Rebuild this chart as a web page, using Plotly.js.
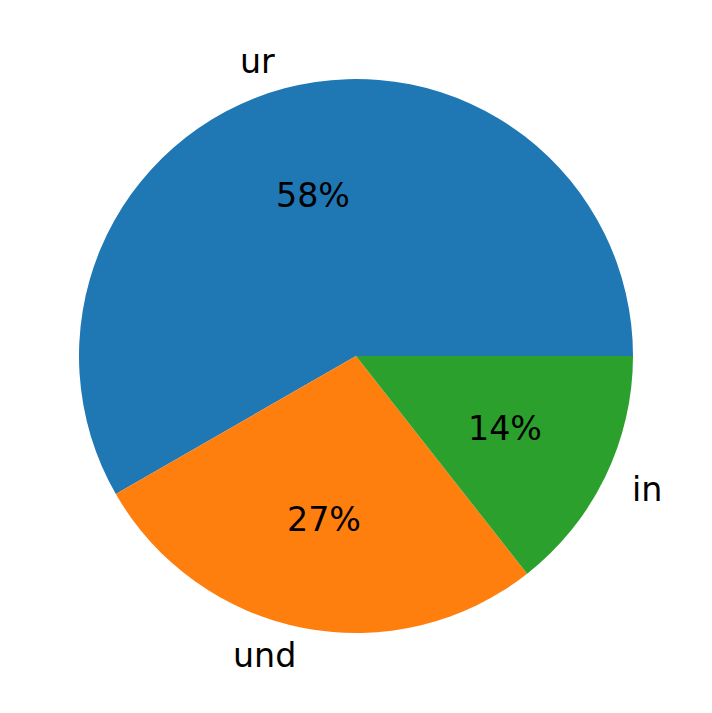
<!DOCTYPE html>
<html>
<head>
<meta charset="utf-8">
<script src="https://cdn.plot.ly/plotly-3.0.1.min.js"></script>
<style>html,body{margin:0;padding:0;background:#fff;}</style>
</head>
<body>
<div id="chart" style="width:712px;height:713px;"></div>
<script>
const labels = ["ur", "und", "in"];
const values = [58.3, 27.3, 14.4];
const colors = ["#1f77b4", "#ff7f0e", "#2ca02c"];

const W = 712, H = 713;
const font = "DejaVu Sans, sans-serif";
const fontSize = 33.3;
// pie geometry (layout only)
const cxPx = 356, cyPx = 356, rPx = 277;
const domain = {x: [(cxPx - rPx) / W, (cxPx + rPx) / W], y: [1 - (cyPx + rPx) / H, 1 - (cyPx - rPx) / H]};

// label / percent positions derived from the data (start at 3 o'clock, counterclockwise)
const total = values.reduce((a, b) => a + b, 0);
const annotations = [];
let acc = 0;
values.forEach((v, i) => {
  const mid = (acc + v / 2) / total * 2 * Math.PI;
  acc += v;
  const c = Math.cos(mid), s = Math.sin(mid);
  const lx = cxPx + 1.1 * rPx * c, ly = cyPx - 1.1 * rPx * s;
  annotations.push({
    xref: "paper", yref: "paper", x: lx / W, y: 1 - ly / H,
    text: labels[i], showarrow: false,
    xanchor: c > 0 ? "left" : "right", yanchor: "middle",
    font: {family: font, size: fontSize, color: "#000"}
  });
  const px = cxPx + 0.6 * rPx * c, py = cyPx - 0.6 * rPx * s;
  annotations.push({
    xref: "paper", yref: "paper", x: px / W, y: 1 - py / H,
    text: Math.round(v / total * 100) + "%", showarrow: false,
    xanchor: "center", yanchor: "middle",
    font: {family: font, size: fontSize, color: "#000"}
  });
});

// Plotly's counterclockwise layout places the first slice ending at the rotation point,
// so rotate so that the first slice starts at 3 o'clock.
const rotation = 90 - 360 * values[0] / total;

const data = [{
  type: "pie", labels: labels, values: values, sort: false,
  direction: "counterclockwise", rotation: rotation,
  marker: {colors: colors, line: {width: 0}},
  textinfo: "none",
  hoverinfo: "none", showlegend: false, domain: domain, automargin: false
}];
const layout = {
  width: W, height: H,
  margin: {l: 0, r: 0, t: 0, b: 0},
  paper_bgcolor: "#fff", plot_bgcolor: "#fff",
  showlegend: false, annotations: annotations
};
Plotly.newPlot("chart", data, layout, {displayModeBar: false, staticPlot: true});
</script>
</body>
</html>
